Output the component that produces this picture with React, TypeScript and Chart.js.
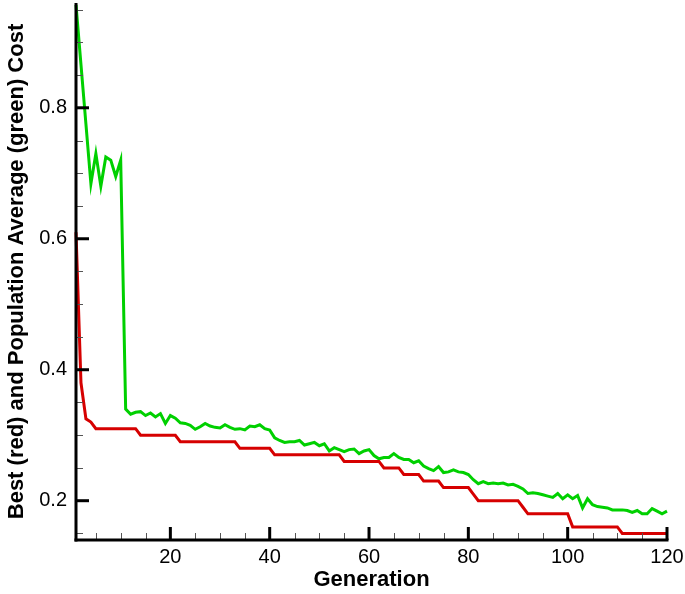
import React, { useEffect, useRef } from "react";
import { Chart, registerables } from "chart.js";

Chart.register(...registerables);

const generations: number[] = Array.from({ length: 120 }, (_, i) => i + 1);

const bestCost: number[] = [
  0.61, 0.38, 0.325, 0.32,
  0.31, 0.31, 0.31, 0.31, 0.31, 0.31, 0.31, 0.31, 0.31,
  0.30, 0.30, 0.30, 0.30, 0.30, 0.30, 0.30, 0.30,
  0.29, 0.29, 0.29, 0.29, 0.29, 0.29, 0.29, 0.29, 0.29, 0.29, 0.29, 0.29,
  0.28, 0.28, 0.28, 0.28, 0.28, 0.28, 0.28,
  0.27, 0.27, 0.27, 0.27, 0.27, 0.27, 0.27, 0.27, 0.27, 0.27, 0.27, 0.27, 0.27, 0.27,
  0.26, 0.26, 0.26, 0.26, 0.26, 0.26, 0.26, 0.26,
  0.25, 0.25, 0.25, 0.25,
  0.24, 0.24, 0.24, 0.24,
  0.23, 0.23, 0.23, 0.23,
  0.22, 0.22, 0.22, 0.22, 0.22, 0.22,
  0.21,
  0.20, 0.20, 0.20, 0.20, 0.20, 0.20, 0.20, 0.20, 0.20,
  0.19,
  0.18, 0.18, 0.18, 0.18, 0.18, 0.18, 0.18, 0.18, 0.18,
  0.16, 0.16, 0.16, 0.16, 0.16, 0.16, 0.16, 0.16, 0.16, 0.16,
  0.15, 0.15, 0.15, 0.15, 0.15, 0.15, 0.15, 0.15, 0.15, 0.15,
];

const averageCost: number[] = [
  0.957, 0.866, 0.775, 0.684, 0.73, 0.68, 0.725, 0.72, 0.695, 0.72,
  0.34, 0.332, 0.335, 0.336, 0.33, 0.334, 0.328, 0.333, 0.318, 0.33,
  0.326, 0.319, 0.318, 0.315, 0.309, 0.313, 0.318, 0.314, 0.312, 0.311,
  0.316, 0.312, 0.309, 0.31, 0.308, 0.314, 0.313, 0.316, 0.31, 0.308,
  0.296, 0.292, 0.289, 0.29, 0.29, 0.292, 0.285, 0.287, 0.289, 0.284,
  0.287, 0.276, 0.281, 0.278, 0.275, 0.278, 0.279, 0.272, 0.276, 0.278,
  0.269, 0.264, 0.266, 0.266, 0.272, 0.266, 0.263, 0.263, 0.258, 0.261,
  0.253, 0.249, 0.246, 0.252, 0.243, 0.244, 0.247, 0.244, 0.243, 0.24,
  0.232, 0.226, 0.229, 0.226, 0.227, 0.226, 0.227, 0.224, 0.225, 0.222,
  0.218, 0.211, 0.212, 0.211, 0.209, 0.207, 0.205, 0.211, 0.203, 0.209,
  0.203, 0.208, 0.189, 0.203, 0.194, 0.191, 0.19, 0.189, 0.186, 0.186,
  0.186, 0.185, 0.182, 0.185, 0.18, 0.18, 0.188, 0.184, 0.18, 0.184,
];

const xMajorTicks: number[] = [20, 40, 60, 80, 100, 120];
const xMinorTicks: number[] = [5, 10, 15, 25, 30, 35, 45, 50, 55, 65, 70, 75, 85, 90, 95, 105, 110, 115];
const yMajorTicks: number[] = [0.2, 0.4, 0.6, 0.8];
const yMinorTicks: number[] = [0.15, 0.25, 0.3, 0.35, 0.45, 0.5, 0.55, 0.65, 0.7, 0.75, 0.85, 0.9, 0.95];

const X_MIN = 1;
const X_MAX = 120;
const Y_MIN = 0.14;
const Y_MAX = 0.96;

const FONT = "'Liberation Sans', Arial, Helvetica, sans-serif";

const axesPlugin = {
  id: "tecAxes",
  afterDraw(chart: any) {
    const { ctx, chartArea, scales } = chart;
    const { left, right, top, bottom } = chartArea;
    const xs = scales.x;
    const ys = scales.y;
    const line = (x1: number, y1: number, x2: number, y2: number) => {
      ctx.beginPath();
      ctx.moveTo(x1, y1);
      ctx.lineTo(x2, y2);
      ctx.stroke();
    };
    ctx.save();
    ctx.lineCap = "butt";
    ctx.lineWidth = 1;
    ctx.strokeStyle = "#555";
    xMinorTicks.forEach((v) => {
      const px = Math.round(xs.getPixelForValue(v)) + 0.5;
      line(px, bottom, px, bottom - 7);
    });
    yMinorTicks.forEach((v) => {
      const py = Math.round(ys.getPixelForValue(v)) + 0.5;
      line(left, py, left + 7, py);
    });
    ctx.lineWidth = 3;
    ctx.strokeStyle = "#000";
    xMajorTicks.forEach((v) => {
      const px = xs.getPixelForValue(v);
      line(px, bottom, px, bottom - 13);
    });
    yMajorTicks.forEach((v) => {
      const py = ys.getPixelForValue(v);
      line(left, py, left + 13, py);
    });
    line(left, top, left, bottom + 1.5);
    line(left - 1.5, bottom, right + 1.5, bottom);
    ctx.restore();
  },
};

export default function App() {
  const canvasRef = useRef<HTMLCanvasElement | null>(null);

  useEffect(() => {
    document.body.style.margin = "0";
    const canvas = canvasRef.current;
    if (!canvas) return;
    const chart = new Chart(canvas, {
      type: "line",
      data: {
        datasets: [
          {
            label: "Best",
            data: generations.map((g, i) => ({ x: g, y: bestCost[i] })),
            borderColor: "#d60000",
            borderWidth: 3,
            pointRadius: 0,
            tension: 0,
            fill: false,
            clip: false as any,
          },
          {
            label: "Population Average",
            data: generations.map((g, i) => ({ x: g, y: averageCost[i] })),
            borderColor: "#00d000",
            borderWidth: 3,
            pointRadius: 0,
            tension: 0,
            fill: false,
            clip: false as any,
          },
        ],
      },
      options: {
        responsive: false,
        animation: false,
        devicePixelRatio: 1,
        layout: { padding: { left: 0, right: 18, top: 3, bottom: 0 } },
        plugins: {
          legend: { display: false },
          tooltip: { enabled: false },
        },
        scales: {
          x: {
            type: "linear",
            min: X_MIN,
            max: X_MAX,
            grid: { display: false, drawTicks: false },
            border: { display: false },
            afterBuildTicks: (scale: any) => {
              scale.ticks = xMajorTicks.map((v) => ({ value: v }));
            },
            afterFit: (scale: any) => {
              scale.height = 54;
              scale.paddingLeft = 0;
              scale.paddingRight = 0;
            },
            ticks: {
              padding: 5,
              maxRotation: 0,
              autoSkip: false,
              color: "#000",
              font: { family: FONT, size: 20 },
              callback: (v: any) => String(v),
            },
            title: {
              display: true,
              text: "Generation",
              color: "#000",
              font: { family: FONT, size: 22, weight: "bold", lineHeight: 1 },
              padding: { top: 0, bottom: 3 },
            },
          },
          y: {
            type: "linear",
            min: Y_MIN,
            max: Y_MAX,
            grid: { display: false, drawTicks: false },
            border: { display: false },
            afterBuildTicks: (scale: any) => {
              scale.ticks = yMajorTicks.map((v) => ({ value: v }));
            },
            afterFit: (scale: any) => {
              scale.width = 76;
              scale.paddingTop = 0;
              scale.paddingBottom = 0;
            },
            ticks: {
              padding: 9,
              autoSkip: false,
              color: "#000",
              font: { family: FONT, size: 20 },
              callback: (v: any) => Number(v).toFixed(1),
            },
            title: {
              display: true,
              text: "Best (red) and Population Average (green) Cost",
              color: "#000",
              font: { family: FONT, size: 22, weight: "bold", lineHeight: 1 },
              padding: { top: 6, bottom: 0 },
            },
          },
        },
      },
      plugins: [axesPlugin],
    });
    return () => chart.destroy();
  }, []);

  return (
    <div style={{ width: 685, height: 594 }}>
      <canvas ref={canvasRef} width={685} height={594} style={{ display: "block" }} />
    </div>
  );
}
